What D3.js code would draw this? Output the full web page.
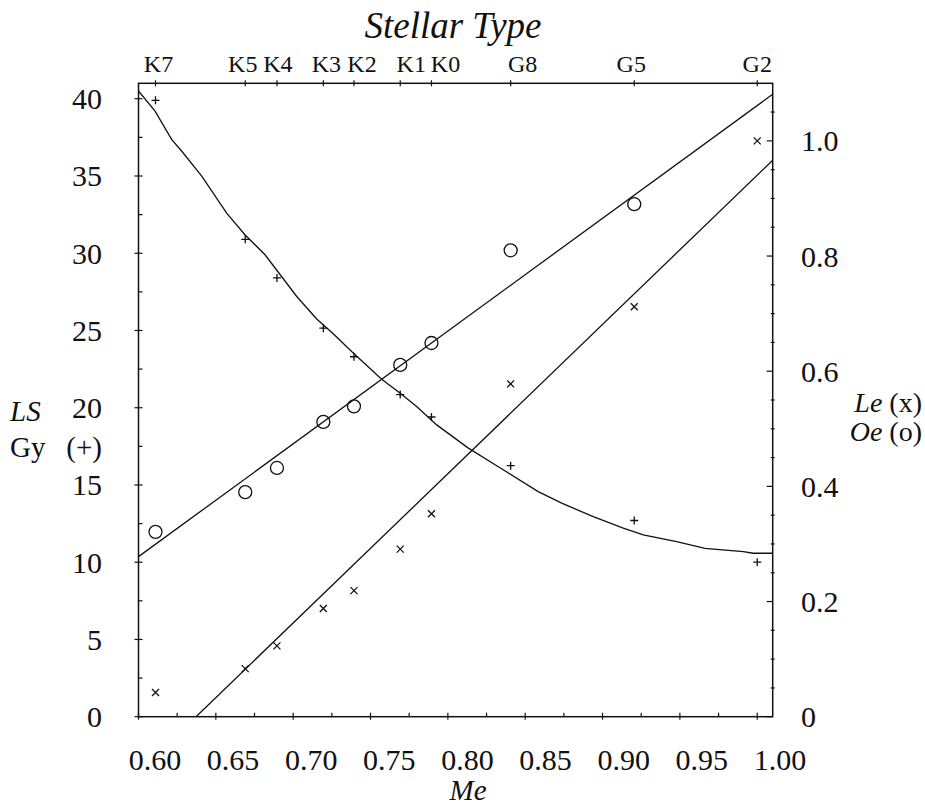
<!DOCTYPE html>
<html lang="en">
<head>
<meta charset="UTF-8">
<title>Stellar Type</title>
<script src="https://d3js.org/d3.v7.min.js"></script>
<style>
    html, body {
        margin: 0;
        padding: 0;
        background: #fff;
    }

    svg {
        display: block;
    }

    text {
        font-family: 'Liberation Serif', Tinos, 'Times New Roman', Times, serif;
        fill: #111;
    }

    .it {
        font-style: italic;
    }
</style>
</head>
<body>
<svg id="chart" width="925" height="806"></svg>

<script>
    // stellar types along the top and their mass Me
    var types = ['K7', 'K5', 'K4', 'K3', 'K2', 'K1', 'K0', 'G8', 'G5', 'G2']
    var me = [0.611, 0.669, 0.6895, 0.7195, 0.7393, 0.7692, 0.7894, 0.8406, 0.9205, 1.00]

    // LS Gy (+), left axis
    var gy = [39.9, 30.9, 28.4, 25.15, 23.3, 20.85, 19.4, 16.25, 12.7, 10.0]
    // Le (x) and Oe (o), right axis
    var le = [0.042, 0.0835, 0.123, 0.188, 0.219, 0.291, 0.3525, 0.578, 0.712, 1.0]
    var oe = [0.321, 0.390, 0.432, 0.512, 0.539, 0.611, 0.649, 0.810, 0.890, null]

    // fitted curves, [Me, value]
    var gyCurve = [
        [0.600, 40.5], [0.6107, 39.2], [0.6215, 37.35], [0.628, 36.6], [0.641, 34.97],
        [0.657, 32.6], [0.6688, 31.2], [0.6818, 29.9], [0.7023, 27.2], [0.7152, 25.74],
        [0.7259, 24.79], [0.7378, 23.64], [0.7572, 21.85], [0.769, 20.95], [0.7798, 20.08],
        [0.7928, 18.89], [0.8130, 17.4], [0.8316, 16.24], [0.8584, 14.57], [0.8736, 13.82],
        [0.894, 12.95], [0.9134, 12.2], [0.9263, 11.77], [0.9479, 11.33], [0.9662, 10.9],
        [0.991, 10.69], [0.9974, 10.58], [1.01, 10.58]
    ]
    var oeLine = [[0.60, 0.278], [1.01, 1.081]]
    var leLine = [[0.6372, 0.0], [1.01, 0.9664]]

    // axis ticks
    var xMajor = [0.60, 0.65, 0.70, 0.75, 0.80, 0.85, 0.90, 0.95, 1.00]
    var xMinor = [0.625, 0.675, 0.725, 0.775, 0.825, 0.875, 0.925, 0.975]
    var leftMajor = [0, 5, 10, 15, 20, 25, 30, 35, 40]
    var leftMinor = [2.5, 7.5, 12.5, 17.5, 22.5, 27.5, 32.5, 37.5]
    var rightMajor = [0, 0.2, 0.4, 0.6, 0.8, 1.0]
    var rightMinor = [0.05, 0.1, 0.15, 0.25, 0.3, 0.35, 0.45, 0.5, 0.55, 0.65, 0.7, 0.75, 0.85, 0.9, 0.95, 1.05]

    // layout
    var x0 = 138.5, x1 = 772.7, y0 = 83.3, y1 = 716.7
    var typeShift = [3, -2.5, 1, 3, 8, 11, 14, 12, -3, 0]   // the type labels were set by hand
    var ink = '#111'

    var svg = d3.select('#chart')
    var x = d3.scaleLinear().domain([0.60, 1.01]).range([x0, x1])
    // labels along the bottom sit a little right of their ticks in the original
    var xLab = d3.scaleLinear().domain([0.60, 1.00]).range([x(0.60) + 16.5, x(1.00) + 22.7])
    var yL = d3.scaleLinear().domain([0, 41]).range([y1, y0])
    var yR = d3.scaleLinear().domain([0, 1.1]).range([y1, y0])

    var g = svg.append('g')

    // frame
    g.append('rect')
        .attr('x', x0).attr('y', y0)
        .attr('width', x1 - x0).attr('height', y1 - y0)
        .attr('fill', 'none').attr('stroke', ink).attr('stroke-width', 1.5)

    function ticks(vals, f) {
        g.append('g').selectAll('line').data(vals).enter().append('line')
            .each(function (d) {
                var c = f(d)
                d3.select(this).attr('x1', c[0]).attr('y1', c[1]).attr('x2', c[2]).attr('y2', c[3])
            })
            .attr('stroke', ink).attr('stroke-width', 1.2)
    }

    ticks(xMajor, function (d) { return [x(d), y1 - 4, x(d), y1 + 3] })
    ticks(xMinor, function (d) { return [x(d), y1 - 4, x(d), y1] })
    ticks(me, function (d) { return [x(d), y0 - 3, x(d), y0 + 3] })
    ticks(leftMajor, function (d) { return [x0 - 4, yL(d), x0 + 4, yL(d)] })
    ticks(leftMinor, function (d) { return [x0, yL(d), x0 + 4, yL(d)] })
    ticks(rightMajor, function (d) { return [x1 - 6, yR(d), x1, yR(d)] })
    ticks(rightMinor, function (d) { return [x1 - 2, yR(d), x1 + 2, yR(d)] })

    function label(parent, px, py, size, anchor) {
        return parent.append('text')
            .attr('x', px).attr('y', py)
            .attr('text-anchor', anchor || 'start')
            .attr('font-size', size)
    }

    // tick labels
    xMajor.forEach(function (d) {
        label(g, xLab(d), 770, 30, 'middle').text(d3.format('.2f')(d))
    })
    types.forEach(function (t, i) {
        label(g, x(me[i]) + typeShift[i], 72, 24, 'middle').text(t)
    })
    leftMajor.forEach(function (d) {
        label(g, 102, yL(d) + 10.5, 30, 'end').text(d)
    })
    rightMajor.forEach(function (d) {
        label(g, 801, yR(d) + 10.5, 30, 'start').text(d === 0 ? '0' : d3.format('.1f')(d))
    })

    // titles
    label(g, 453, 38, 37, 'middle').attr('class', 'it').text('Stellar Type')
    label(g, 468, 800, 29, 'middle').attr('class', 'it').text('Me')

    label(g, 10, 421, 29, 'start').attr('class', 'it').text('LS')
    label(g, 10, 457, 29, 'start').text('Gy')
    label(g, 102, 457, 29, 'end').text('(+)')

    var le_t = label(g, 922, 412, 28, 'end')
    le_t.append('tspan').attr('class', 'it').text('Le')
    le_t.append('tspan').text(' (x)')
    var oe_t = label(g, 922, 441, 28, 'end')
    oe_t.append('tspan').attr('class', 'it').text('Oe')
    oe_t.append('tspan').text(' (o)')

    // curves
    var lineL = d3.line().x(function (d) { return x(d[0]) }).y(function (d) { return yL(d[1]) })
    var lineR = d3.line().x(function (d) { return x(d[0]) }).y(function (d) { return yR(d[1]) })

    g.append('path').datum(gyCurve).attr('d', lineL)
        .attr('fill', 'none').attr('stroke', ink).attr('stroke-width', 1.3)
    g.append('path').datum(oeLine).attr('d', lineR)
        .attr('fill', 'none').attr('stroke', ink).attr('stroke-width', 1.3)
    g.append('path').datum(leLine).attr('d', lineR)
        .attr('fill', 'none').attr('stroke', ink).attr('stroke-width', 1.3)

    // markers
    var pts = me.map(function (m, i) { return {me: m, gy: gy[i], le: le[i], oe: oe[i]} })

    g.append('g').selectAll('path').data(pts).enter().append('path')
        .attr('transform', function (d) { return 'translate(' + x(d.me) + ',' + yL(d.gy) + ')' })
        .attr('d', 'M-4,0H4M0,-4V4')
        .attr('stroke', ink).attr('stroke-width', 1.3)

    g.append('g').selectAll('path').data(pts).enter().append('path')
        .attr('transform', function (d) { return 'translate(' + x(d.me) + ',' + yR(d.le) + ')' })
        .attr('d', 'M-3.5,-3.5L3.5,3.5M-3.5,3.5L3.5,-3.5')
        .attr('stroke', ink).attr('stroke-width', 1.3)

    g.append('g').selectAll('circle').data(pts.filter(function (d) { return d.oe != null })).enter().append('circle')
        .attr('cx', function (d) { return x(d.me) })
        .attr('cy', function (d) { return yR(d.oe) })
        .attr('r', 6.5)
        .attr('fill', 'none').attr('stroke', ink).attr('stroke-width', 1.3)
</script>
</body>
</html>
